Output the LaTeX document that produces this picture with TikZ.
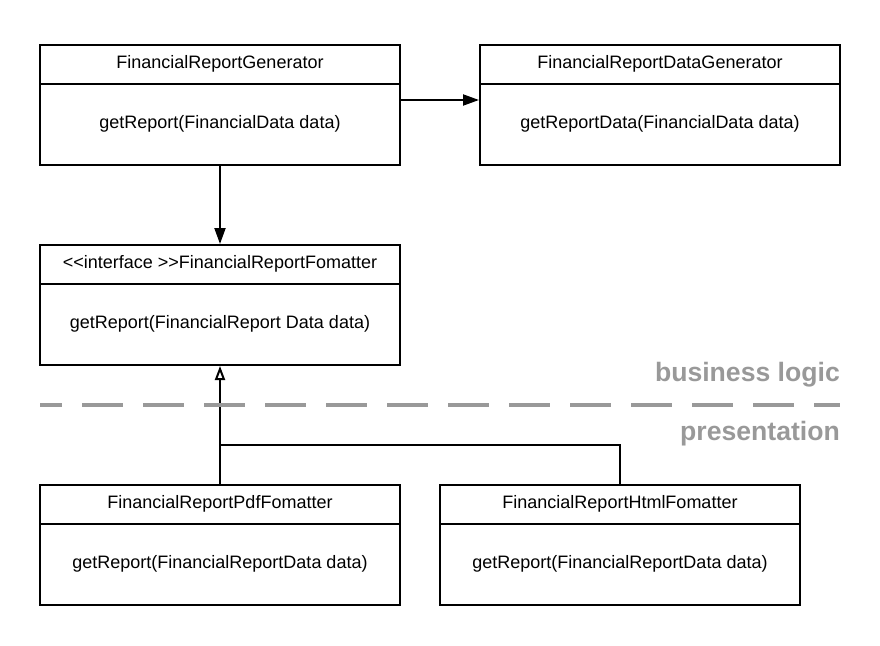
\documentclass[tikz,border=0pt]{standalone}
\usepackage{fontspec}
\setmainfont{Liberation Sans}
\usetikzlibrary{arrows.meta}
\definecolor{lblgray}{HTML}{999999}
\tikzset{
  classbox/.style={draw=black, line width=2pt, minimum width=360pt, minimum height=120pt, inner sep=0pt, fill=white},
  txt/.style={font=\fontsize{18}{21}\selectfont, inner sep=0pt, anchor=center},
  lbl/.style={font=\fontsize{26.6}{30}\selectfont\bfseries, text=lblgray, inner sep=0pt, anchor=base east},
  conn/.style={line width=2pt, draw=black},
  assoc/.style={conn, -{Triangle[length=16pt,width=11pt]}},
  realize/.style={conn, -{Triangle[open,length=14pt,width=10pt,line width=2pt]}},
  sep/.style={line width=4pt, draw=lblgray, dash pattern=on 41pt off 20pt, dash phase=19pt}
}
\newcommand{\umlclass}[4]{%
  \node[classbox] (#1) at (#2) {};
  \draw[line width=2pt] ([yshift=-40pt]#1.north west) -- ([yshift=-40pt]#1.north east);
  \node[txt] (#1t) at ([yshift=-20pt]#1.north) {#3};
  \node[txt] (#1m) at ([yshift=-80pt]#1.north) {#4};
}
\begin{document}
\begin{tikzpicture}[x=1pt, y=-1pt]
\useasboundingbox (0,0) rectangle (880,645);
\umlclass{frg}{220,105}{FinancialReportGenerator}{getReport(FinancialData data)}
\umlclass{frdg}{660,105}{FinancialReportDataGenerator}{getReportData(FinancialData data)}
\umlclass{iface}{220,305}{{<}{<}interface {>}{>}FinancialReportFomatter}{getReport(FinancialReport Data data)}
\umlclass{pdf}{220,545}{FinancialReportPdfFomatter}{getReport(FinancialReportData data)}
\umlclass{html}{620,545}{FinancialReportHtmlFomatter}{getReport(FinancialReportData data)}

\draw[assoc] ([yshift=5pt]frg.east) -- ([yshift=5pt]frdg.west);
\draw[assoc] (frg.south) -- (iface.north);
\coordinate (j) at (220,445);
\draw[realize] (pdf.north) -- (iface.south);
\draw[conn] (html.north) |- (j);

\coordinate (sepL) at (40,405);
\coordinate (sepR) at (840,405);
\draw[sep] (sepL) -- (sepR);
\node[lbl] (bl) at (840,381) {business logic};
\node[lbl] (pr) at (840,440) {presentation};
\end{tikzpicture}
\end{document}
